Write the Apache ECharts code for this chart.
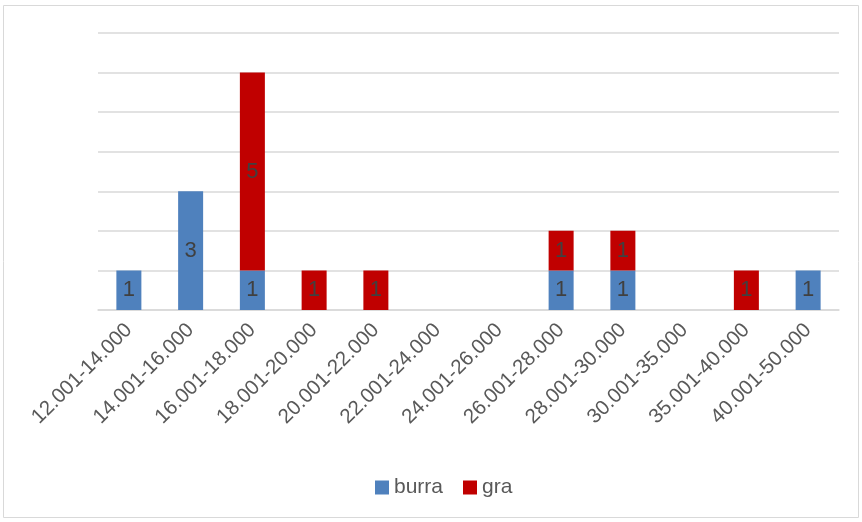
<!DOCTYPE html>
<html><head><meta charset="utf-8">
<script src="https://cdn.jsdelivr.net/npm/echarts@6/dist/echarts.min.js"></script>
<style>html,body{margin:0;padding:0;background:#fff}#c{width:862px;height:522px}</style>
</head><body><div id="c"></div>
<script>
const categories = ['12.001-14.000','14.001-16.000','16.001-18.000','18.001-20.000','20.001-22.000','22.001-24.000','24.001-26.000','26.001-28.000','28.001-30.000','30.001-35.000','35.001-40.000','40.001-50.000'];
const burra = [1,3,1,0,0,0,0,1,1,0,0,1];
const gra = [0,0,5,1,1,0,0,1,1,0,1,0];
const FONT = '"Liberation Sans", "Open Sans", sans-serif';
const chart = echarts.init(document.getElementById('c'));
const labelCfg = {show:true, position:'inside', color:'#404040', fontSize:22, fontFamily:FONT,
  formatter: p => p.value ? String(p.value) : ''};
chart.setOption({
  animation:false,
  graphic:[{type:'rect', shape:{x:3.5,y:5.5,width:855,height:512}, style:{fill:'none', stroke:'#D9D9D9', lineWidth:1}}],
  grid:{left:98, right:23, top:33, bottom:212, containLabel:false},
  legend:{data:['burra','gra'], bottom:19, left:370, itemWidth:14, itemHeight:14, itemGap:20,
    icon:'rect', textStyle:{color:'#595959', fontSize:21, fontFamily:FONT}},
  xAxis:{type:'category', data:categories,
    axisLine:{lineStyle:{color:'#D9D9D9', width:1.5}}, axisTick:{show:false},
    axisLabel:{rotate:45, interval:0, margin:17, color:'#595959', fontSize:20.5, fontFamily:FONT}},
  yAxis:{type:'value', min:0, max:7, interval:1, axisLabel:{show:false},
    axisLine:{show:false}, axisTick:{show:false},
    splitLine:{lineStyle:{color:'#D9D9D9', width:1.5}}},
  series:[
    {name:'burra', type:'bar', stack:'a', data:burra, barWidth:25, itemStyle:{color:'#4F81BD'}, label:labelCfg},
    {name:'gra', type:'bar', stack:'a', data:gra, barWidth:25, itemStyle:{color:'#C00000'}, label:labelCfg}
  ]
});
</script></body></html>
